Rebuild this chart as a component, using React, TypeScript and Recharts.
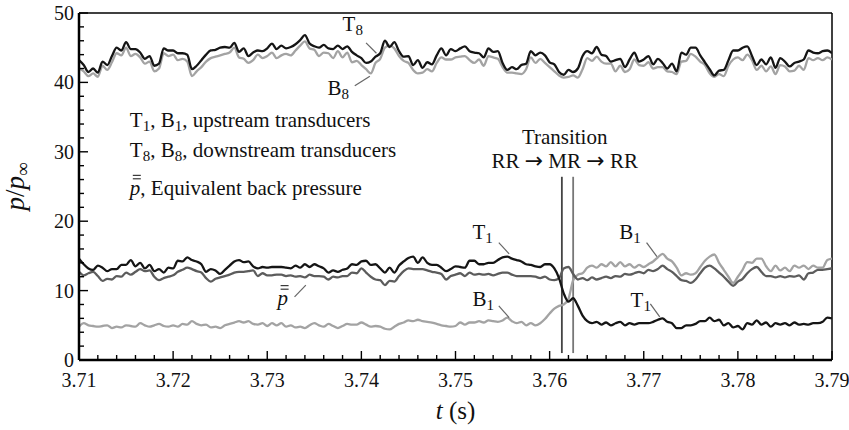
import { LineChart, Line, XAxis, YAxis, ReferenceLine, ReferenceDot } from 'recharts';

const SERIF = "'Liberation Serif', 'Times New Roman', Times, serif";

// samples every 0.5 ms from 3.710 s to 3.790 s
const T_START = 3.71;
const T_STEP = 0.0005;

const T8_VALUES = [
  43.2, 42.5, 41.5, 42.0, 41.4, 43.0, 42.5, 43.8, 45.0, 44.6,
  45.8, 44.8, 44.8, 44.3, 43.4, 43.8, 42.4, 42.7, 44.9, 44.6,
  44.6, 44.2, 44.2, 44.0, 41.9, 42.4, 43.2, 44.0, 44.6, 44.7,
  45.0, 45.1, 45.0, 45.7, 44.4, 44.9, 43.8, 44.3, 44.6, 44.5,
  44.9,
  45.6, 44.8, 45.3, 44.9, 45.1, 45.5, 46.1, 46.8, 45.6, 45.2,
  45.0, 45.4, 44.9, 44.8, 45.3, 44.8, 45.2, 44.4, 43.9, 43.5,
  42.8, 43.0, 43.7, 44.2, 46.0, 45.1, 45.8, 44.5, 43.7, 43.8,
  42.5, 43.2, 42.1, 42.9, 42.6, 43.9, 44.9, 43.9, 44.8, 44.5,
  44.9, 45.2, 44.5, 44.3, 44.2, 43.6, 44.9, 44.4, 44.5, 42.8,
  41.8, 42.2, 41.9, 42.5, 42.7, 44.5, 43.9, 44.3, 43.9, 42.9,
  42.6, 41.5, 41.1, 41.8, 41.5, 42.0, 43.8, 44.5, 44.2, 45.1,
  44.0, 43.8, 43.0, 43.2, 43.4, 42.2, 43.3, 44.3, 43.0, 43.3,
  43.8, 42.6, 43.4, 42.8, 42.0, 42.7, 41.6, 44.3, 44.0, 45.0,
  45.0, 43.9, 42.9, 41.9, 41.0, 41.7, 41.8, 43.2, 44.6, 44.6,
  45.0, 45.2, 43.8, 42.5, 43.3, 42.6, 43.6, 42.1, 43.5, 43.0,
  42.3, 42.8, 43.0, 43.3, 44.6, 44.3, 44.2, 44.5, 44.6, 44.2,
];

const B8_VALUES = [
  42.0, 41.6, 40.9, 41.3, 40.8, 42.4, 41.8, 42.9, 44.2, 43.9,
  45.0, 43.8, 44.1, 43.6, 42.7, 43.0, 41.6, 42.0, 44.2, 43.8,
  44.0, 43.2, 43.4, 43.0, 40.9, 41.6, 42.2, 43.0, 43.5, 43.7,
  43.9, 44.1, 44.3, 45.0, 43.6, 43.4, 42.8, 43.2, 44.0, 43.5,
  43.8,
  44.3, 43.5, 43.9, 44.1, 43.9, 44.6, 45.3, 45.9, 44.9, 44.7,
  43.8, 44.3, 44.2, 43.5, 44.5, 43.6, 44.3, 42.9, 43.1, 42.5,
  41.9, 41.3, 42.8, 43.4, 45.0, 45.3, 44.9, 43.8, 43.1, 42.8,
  41.8, 41.3, 41.4, 41.9, 41.6, 42.8, 43.6, 43.3, 43.3, 43.6,
  43.7, 43.8, 43.2, 42.8, 43.3, 42.4, 43.8, 43.6, 43.4, 42.2,
  41.4, 41.4, 41.3, 41.2, 41.9, 43.6, 42.8, 43.4, 42.8, 42.2,
  41.6, 41.0, 40.7, 40.8, 41.0, 40.7, 41.9, 43.5, 43.1, 43.7,
  43.0, 42.7, 42.7, 41.6, 42.4, 41.5, 41.9, 43.3, 42.5, 42.4,
  42.9, 42.0, 42.2, 42.2, 41.6, 41.5, 41.2, 43.0, 43.1, 44.1,
  43.7, 43.0, 42.5, 41.3, 40.8, 41.2, 40.9, 42.4, 43.3, 43.6,
  43.2, 44.0, 43.2, 41.8, 42.4, 41.6, 42.3, 41.2, 42.5, 42.3,
  41.6, 41.7, 42.4, 41.8, 43.5, 43.2, 43.5, 43.2, 43.6, 43.3,
];

const T1_VALUES = [
  14.6, 13.8, 13.2, 13.0, 13.6, 13.3, 12.8, 13.1, 13.1, 13.7,
  13.7, 14.4, 13.5, 14.0, 13.2, 13.7, 12.8, 13.1, 12.6, 13.3,
  13.2, 14.3, 14.2, 14.8, 14.4, 14.2, 13.8, 12.7, 13.1, 12.9,
  12.4, 13.0, 13.6, 14.2, 14.4, 14.1, 14.2, 13.5, 13.2, 13.4,
  13.3,
  13.4, 13.4, 13.4, 13.3, 13.2, 13.6, 13.3, 13.8, 13.4, 13.8,
  13.5, 13.2, 12.6, 12.9, 12.7, 13.0, 13.2, 13.8, 13.7, 14.2,
  14.3, 13.7, 13.8, 13.2, 12.6, 13.3, 12.6, 13.6, 14.2, 14.7,
  14.9, 14.0, 14.8, 14.0, 13.7, 13.7, 13.3, 12.8, 13.1, 13.5,
  13.4, 13.3, 14.3, 14.3, 13.8, 13.8, 14.0, 14.0, 14.4, 14.8,
  14.9, 14.6, 14.4, 14.2, 13.8, 13.7, 13.5, 13.4, 13.8, 13.8,
  13.2, 11.8, 9.6, 8.4, 8.9, 7.8, 6.4, 5.6, 5.3, 5.5,
  5.1, 5.4, 5.0, 5.3, 5.5, 5.0, 5.3, 5.1, 5.3, 5.3,
  5.3, 5.5, 5.8, 6.0, 5.5, 5.3, 4.6, 4.6, 5.0, 5.0,
  5.2, 5.6, 5.6, 6.1, 5.6, 5.8, 5.0, 5.3, 4.7, 4.9,
  4.4, 5.3, 5.1, 5.7, 5.1, 5.4, 4.8, 5.3, 5.1, 5.3,
  5.0, 5.4, 5.1, 5.2, 5.1, 5.3, 5.3, 5.5, 6.1, 6.0,
];

const B1_VALUES = [
  4.8, 5.3, 5.0, 4.9, 4.8, 4.9, 5.0, 4.6, 4.8, 4.7,
  5.0, 4.9, 4.8, 5.3, 5.0, 4.8, 5.0, 5.2, 4.9, 4.8,
  5.0, 4.8, 5.2, 5.1, 5.6, 5.2, 5.0, 5.1, 4.7, 4.8,
  4.6, 5.0, 5.2, 5.4, 5.6, 5.4, 5.6, 5.2, 5.1, 5.3,
  4.9,
  5.3, 5.0, 5.3, 4.8, 5.0, 4.7, 4.8, 4.6, 5.0, 5.3,
  5.0, 4.8, 5.2, 4.9, 4.6, 4.9, 5.2, 5.1, 5.1, 5.4,
  5.1, 4.8, 4.9, 4.8, 4.5, 4.4, 4.8, 5.2, 5.4, 5.7,
  5.6, 5.8, 5.6, 5.5, 5.4, 5.2, 5.0, 4.9, 4.8, 4.9,
  5.4, 5.1, 5.4, 5.4, 5.6, 5.4, 5.7, 5.6, 5.5, 5.7,
  6.1, 5.6, 5.3, 5.5, 5.0, 5.3, 5.0, 5.3, 5.9, 6.7,
  7.4, 7.8, 8.0, 8.8, 11.5, 12.3, 12.5, 13.3, 13.6, 13.3,
  13.8, 13.5, 14.1, 13.5, 14.1, 13.5, 13.8, 13.3, 13.7, 13.4,
  13.8, 14.2, 14.8, 15.3, 14.6, 14.2, 13.3, 12.2, 12.5, 12.3,
  12.5, 13.4, 14.3, 14.9, 15.2, 14.0, 13.0, 12.0, 11.1, 12.0,
  13.0, 14.1, 14.0, 14.6, 14.6, 13.5, 12.8, 13.6, 12.9, 13.3,
  12.8, 13.6, 13.3, 13.6, 13.1, 13.6, 13.3, 13.3, 14.4, 14.6,
];

// equivalent back pressure
const PBAR_VALUES = [
  12.7, 12.2, 12.5, 12.7, 12.1, 11.4, 11.7, 11.6, 12.1, 12.0,
  12.6, 12.3, 12.7, 13.1, 12.8, 12.9, 12.0, 11.5, 11.8, 12.0,
  12.2, 12.7, 13.0, 13.3, 13.1, 12.8, 12.6, 11.8, 11.3, 11.7,
  11.9, 12.1, 12.3, 12.6, 12.7, 12.7, 12.8, 12.9, 12.1, 12.5,
  12.2,
  12.2, 12.3, 12.3, 12.1, 12.2, 12.0, 12.1, 11.9, 12.3, 12.1,
  12.1, 12.0, 11.6, 12.0, 11.9, 12.1, 12.1, 12.6, 12.5, 13.2,
  12.6, 12.0, 11.6, 11.5, 10.8, 11.4, 11.3, 12.1, 12.8, 13.2,
  13.1, 13.1, 13.1, 12.9, 12.7, 12.6, 12.4, 11.6, 12.1, 12.3,
  12.5, 12.1, 12.6, 12.3, 12.4, 12.3, 12.4, 12.2, 12.4, 12.6,
  12.6, 12.3, 12.1, 12.1, 12.1, 12.1, 12.0, 11.8, 12.0, 11.6,
  11.5, 11.8, 13.2, 13.4, 12.4, 11.6, 11.8, 11.5, 11.9, 11.6,
  11.8, 12.0, 11.8, 12.1, 12.0, 12.4, 12.3, 12.5, 12.7, 12.5,
  13.0, 12.8, 13.1, 13.6, 13.1, 12.7, 12.1, 11.5, 11.4, 11.1,
  11.6, 12.5, 13.3, 13.6, 13.2, 12.6, 12.0, 11.3, 10.7, 11.3,
  11.7, 12.5, 13.1, 13.4, 12.7, 12.1, 12.1, 11.9, 12.1, 11.9,
  12.1, 12.0, 12.2, 11.6, 12.5, 12.6, 13.0, 13.0, 13.1, 13.2,
];

const TIMES = T8_VALUES.map((_, i) => Number((T_START + i * T_STEP).toFixed(4)));

const X_TICKS = Array.from({ length: 41 }, (_, i) => Number((3.71 + i * 0.002).toFixed(3)));
const Y_TICKS = Array.from({ length: 26 }, (_, i) => i * 2);

// RR -> MR and MR -> RR switch times
const TRANSITION_TIMES = [3.7613, 3.7625];

const data = TIMES.map((t, i) => ({
  t,
  T8: T8_VALUES[i],
  B8: B8_VALUES[i],
  T1: T1_VALUES[i],
  B1: B1_VALUES[i],
  pbar: PBAR_VALUES[i],
}));

const txt = { fontFamily: SERIF };

const isMultiple = (v: number, step: number) => Math.abs(v / step - Math.round(v / step)) < 1e-6;

function XTick({ x, y, payload }: any) {
  const v = payload.value as number;
  const major = isMultiple(v, 0.01);
  return (
    <g>
      <line x1={x} x2={x} y1={y} y2={y - (major ? 9 : 5)} stroke="#000" strokeWidth={1.4} />
      {major && (
        <text x={x} y={y + 27} textAnchor="middle" style={txt} fontSize={20} fill="#111">
          {v.toFixed(2)}
        </text>
      )}
    </g>
  );
}

function YTick({ x, y, payload }: any) {
  const v = payload.value as number;
  const major = isMultiple(v, 10);
  return (
    <g>
      <line x1={x} x2={x + (major ? 9 : 5)} y1={y} y2={y} stroke="#000" strokeWidth={1.4} />
      {major && (
        <text x={x - 5} y={y + 7} textAnchor="end" style={txt} fontSize={20} fill="#111">
          {v}
        </text>
      )}
    </g>
  );
}

const sub = (s: string) => (
  <tspan fontSize={15} dy={4}>
    {s}
  </tspan>
);
const back = (s: string) => <tspan dy={-4}>{s}</tspan>;
const arrow = <tspan style={{ fontFamily: "'DejaVu Sans', sans-serif" }} fontSize={22}>→</tspan>;

// text anchored at a data point, drawn through ReferenceDot's shape
const note = (content: React.ReactNode, anchor: 'start' | 'middle' = 'start') => (p: any) => (
  <text x={p.cx} y={p.cy} textAnchor={anchor} style={txt} fontSize={21} fill="#111">
    {content}
  </text>
);

const pbarNote = (rest: string) => (p: any) => (
  <g>
    <text x={p.cx} y={p.cy} style={txt} fontSize={21} fill="#111">
      <tspan fontStyle="italic">p</tspan>
      {rest}
    </text>
    <line x1={p.cx + 3} x2={p.cx + 11} y1={p.cy - 16} y2={p.cy - 16} stroke="#111" strokeWidth={1} />
    <line x1={p.cx + 3} x2={p.cx + 11} y1={p.cy - 19.5} y2={p.cy - 19.5} stroke="#111" strokeWidth={1} />
  </g>
);

const LEADERS = [
  { from: [3.7405, 45.7], to: [3.7416, 44.2] }, // T8
  { from: [3.7393, 39.5], to: [3.7409, 40.9] }, // B8
  { from: [3.7329, 9.1], to: [3.7341, 10.8] }, // pbar
  { from: [3.7546, 16.9], to: [3.7557, 15.3] }, // T1 upstream of transition
  { from: [3.7546, 7.8], to: [3.7557, 6.1] }, // B1 upstream of transition
  { from: [3.7703, 16.9], to: [3.7714, 14.9] }, // B1 downstream
  { from: [3.7707, 8.1], to: [3.7717, 6.2] }, // T1 downstream
];

const YTitle = (props: any) => {
  const vb = props.viewBox;
  const cx = 24;
  const cy = vb.y + vb.height / 2;
  return (
    <text
      x={cx}
      y={cy}
      transform={`rotate(-90, ${cx}, ${cy})`}
      textAnchor="middle"
      style={txt}
      fontSize={27}
      fill="#111"
    >
      <tspan fontStyle="italic">p</tspan>/<tspan fontStyle="italic">p</tspan>
      <tspan fontSize={19} dy={5}>∞</tspan>
    </text>
  );
};

const XTitle = (props: any) => {
  const vb = props.viewBox;
  return (
    <text x={vb.x + vb.width / 2} y={419} textAnchor="middle" style={txt} fontSize={25} fill="#111">
      <tspan fontStyle="italic">t</tspan> (s)
    </text>
  );
};

export default function App() {
  return (
    <div style={{ position: 'absolute', left: 0, top: 0, background: '#fff', fontFamily: SERIF }}>
      <LineChart width={849} height={430} data={data} margin={{ top: 13, right: 17, bottom: 40, left: 0 }}>
        <XAxis
          dataKey="t"
          type="number"
          domain={[3.71, 3.79]}
          allowDataOverflow
          ticks={X_TICKS}
          interval={0}
          tick={XTick}
          tickLine={false}
          tickSize={0}
          tickMargin={0}
          height={30}
          axisLine={{ stroke: '#000', strokeWidth: 2.5 }}
          label={XTitle}
        />
        <YAxis
          type="number"
          domain={[0, 50]}
          allowDataOverflow
          ticks={Y_TICKS}
          interval={0}
          tick={YTick}
          tickLine={false}
          tickSize={0}
          tickMargin={0}
          width={79}
          axisLine={{ stroke: '#000', strokeWidth: 2.5 }}
          label={YTitle}
        />
        <ReferenceLine y={50} stroke="#000" strokeWidth={1.5} />
        <ReferenceLine x={3.79} stroke="#000" strokeWidth={1.5} />

        {TRANSITION_TIMES.map((t, i) => (
          <ReferenceLine
            key={t}
            segment={[
              { x: t, y: 1 },
              { x: t, y: 26.4 },
            ]}
            stroke={i === 0 ? '#444' : '#777'}
            strokeWidth={1.8}
          />
        ))}

        <Line type="monotone" dataKey="B8" stroke="#a3a3a3" strokeWidth={2.3} dot={false} activeDot={false} isAnimationActive={false} />
        <Line type="monotone" dataKey="B1" stroke="#a3a3a3" strokeWidth={2.3} dot={false} activeDot={false} isAnimationActive={false} />
        <Line type="monotone" dataKey="pbar" stroke="#5c5c5c" strokeWidth={2.3} dot={false} activeDot={false} isAnimationActive={false} />
        <Line type="monotone" dataKey="T8" stroke="#151515" strokeWidth={2.3} dot={false} activeDot={false} isAnimationActive={false} />
        <Line type="monotone" dataKey="T1" stroke="#151515" strokeWidth={2.3} dot={false} activeDot={false} isAnimationActive={false} />

        {LEADERS.map((l, i) => (
          <ReferenceLine
            key={i}
            segment={[
              { x: l.from[0], y: l.from[1] },
              { x: l.to[0], y: l.to[1] },
            ]}
            stroke="#666"
            strokeWidth={1.2}
          />
        ))}

        <ReferenceDot x={3.738} y={47.4} r={0} shape={note(<>T{sub('8')}</>)} />
        <ReferenceDot x={3.7364} y={38.2} r={0} shape={note(<>B{sub('8')}</>)} />
        <ReferenceDot x={3.7311} y={7.9} r={0} shape={pbarNote('')} />
        <ReferenceDot x={3.7518} y={17.4} r={0} shape={note(<>T{sub('1')}</>)} />
        <ReferenceDot x={3.7518} y={7.8} r={0} shape={note(<>B{sub('1')}</>)} />
        <ReferenceDot x={3.7674} y={17.4} r={0} shape={note(<>B{sub('1')}</>)} />
        <ReferenceDot x={3.7686} y={7.6} r={0} shape={note(<>T{sub('1')}</>)} />

        <ReferenceDot
          x={3.7154}
          y={33.6}
          r={0}
          shape={note(<>T{sub('1')}{back(', B')}{sub('1')}{back(', upstream transducers')}</>)}
        />
        <ReferenceDot
          x={3.7154}
          y={29.25}
          r={0}
          shape={note(<>T{sub('8')}{back(', B')}{sub('8')}{back(', downstream transducers')}</>)}
        />
        <ReferenceDot x={3.7154} y={23.8} r={0} shape={pbarNote(', Equivalent back pressure')} />

        <ReferenceDot x={3.7616} y={31.1} r={0} shape={note('Transition', 'middle')} />
        <ReferenceDot
          x={3.7616}
          y={27.7}
          r={0}
          shape={note(<>RR {arrow} MR {arrow} RR</>, 'middle')}
        />
      </LineChart>
    </div>
  );
}
